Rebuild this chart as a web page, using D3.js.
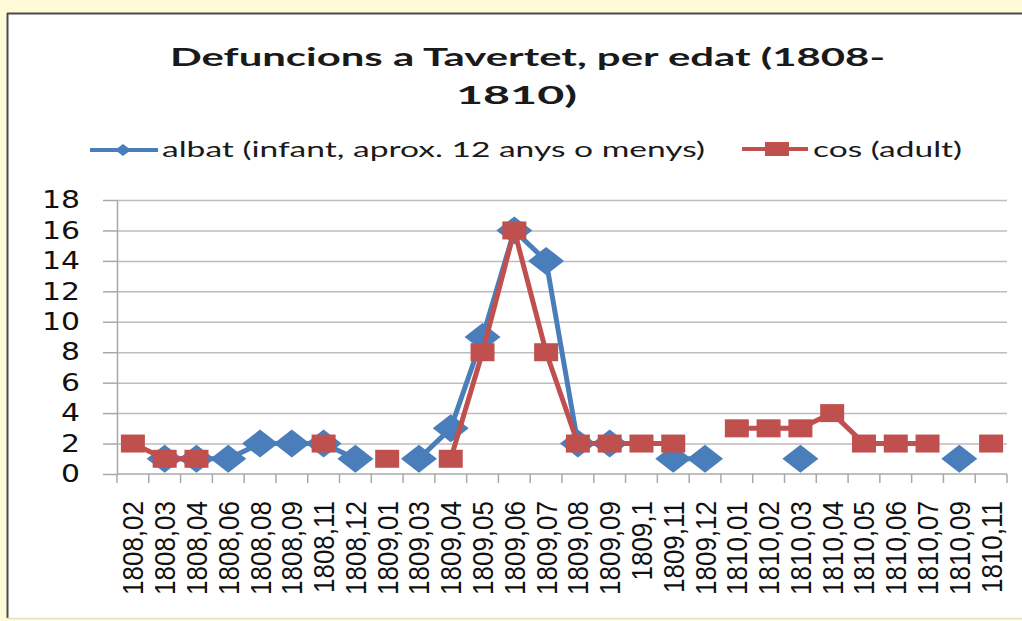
<!DOCTYPE html>
<meta charset="utf-8">
<style>
body{
  margin:0;
  background:#fffad8;
}
.grid line{
  stroke:#bdbdbd;
  stroke-width:1.5px;
}
.grid path{
  stroke:none;
}
.axis path, .axis line{
  stroke:#a8a8a8;
  stroke-width:1.5px;
}
</style>
<body>
<script src="https://d3js.org/d3.v7.min.js"></script>
<script>

var categories=['1808,02','1808,03','1808,04','1808,06','1808,08','1808,09','1808,11','1808,12',
  '1809,01','1809,03','1809,04','1809,05','1809,06','1809,07','1809,08','1809,09','1809,1',
  '1809,11','1809,12','1810,01','1810,02','1810,03','1810,04','1810,05','1810,06','1810,07',
  '1810,09','1810,11'];
// null = cap valor aquest mes
var albat=[null,1,1,1,2,2,2,1,null,1,3,9,16,14,2,2,null,1,1,null,null,1,null,null,null,null,1,null];
var cos=[2,1,1,null,null,null,2,null,1,null,1,8,16,8,2,2,2,2,null,3,3,3,4,2,2,2,null,2];
var yTicks=[0,2,4,6,8,10,12,14,16,18];

var blue="#4a7ebb", red="#c0504d";

var svg=d3.select("body").append("svg").attr("width",1022).attr("height",621)
  .style("display","block");

// panell blanc
svg.append("rect").attr("x",7).attr("y",13).attr("width",1030).attr("height",605).attr("fill","#fff");
svg.append("line").attr("x1",7.5).attr("x2",7.5).attr("y1",13).attr("y2",618).attr("stroke","#4a4a4a").attr("stroke-width",2);
svg.append("line").attr("x1",7).attr("x2",1022).attr("y1",13.5).attr("y2",13.5).attr("stroke","#4a4a4a").attr("stroke-width",2);
svg.append("line").attr("x1",7).attr("x2",1022).attr("y1",618.5).attr("y2",618.5).attr("stroke","#e4e0c4").attr("stroke-width",1.5);

// títol
svg.append("text").attr("x",170).attr("y",66)
  .attr("textLength",715).attr("lengthAdjust","spacingAndGlyphs")
  .style("font-family","Lato, 'Open Sans', sans-serif").style("font-weight","bold").style("font-size","25px")
  .style("fill","#1a1a1a")
  .text("Defuncions a Tavertet, per edat (1808-");
svg.append("text").attr("x",456).attr("y",104)
  .attr("textLength",121).attr("lengthAdjust","spacingAndGlyphs")
  .style("font-family","Lato, 'Open Sans', sans-serif").style("font-weight","bold").style("font-size","25px")
  .style("fill","#1a1a1a")
  .text("1810)");

var x=d3.scaleBand().domain(categories).range([117,1007]);
var y=d3.scaleLinear().domain([0,18]).range([474,200]);
var cx=function(i){ return x(categories[i])+x.bandwidth()/2; };

// graella
svg.append("g").attr("class","grid").attr("transform","translate(117,0)")
  .call(d3.axisLeft(y).tickValues(yTicks.slice(1)).tickSize(-890).tickFormat(""));

// eix Y
var ya=svg.append("g").attr("class","axis").attr("transform","translate(117,0)")
  .call(d3.axisLeft(y).tickValues(yTicks).tickSize(14).tickSizeOuter(0).tickPadding(23));
ya.selectAll("text")
  .style("font-family","'DejaVu Sans', Verdana, sans-serif").style("font-size","24px").style("fill","#111")
  .attr("textLength",function(d){ return String(d).length*19; })
  .attr("lengthAdjust","spacingAndGlyphs");

// eix X
var xa=svg.append("g").attr("class","axis");
xa.append("line").attr("x1",117).attr("x2",1007).attr("y1",y(0)).attr("y2",y(0));
xa.selectAll(".tk").data(categories.concat([null])).enter().append("line").attr("class","tk")
  .attr("x1",function(d){ return d==null? x.range()[1] : x(d); })
  .attr("x2",function(d){ return d==null? x.range()[1] : x(d); })
  .attr("y1",y(0)).attr("y2",y(0)+9);
svg.append("g").selectAll("text").data(categories).enter().append("text")
  .attr("transform",function(d,i){ return "translate("+cx(i)+",501) rotate(-90) scale(1,1.12)"; })
  .attr("dy","0.36em")
  .attr("text-anchor","end")
  .style("font-family","'Liberation Sans', Arial, sans-serif").style("font-size","26px").style("fill","#111")
  .text(function(d){ return d; });

var line=d3.line().defined(function(d){ return d!=null; })
  .x(function(d,i){ return cx(i); }).y(function(d){ return y(d); });

function diamond(sel,w,h){
  sel.attr("d","M0,"+(-h/2)+"L"+(w/2)+",0L0,"+(h/2)+"L"+(-w/2)+",0Z");
}

// albat
svg.append("path").datum(albat).attr("d",line)
  .attr("fill","none").attr("stroke",blue).attr("stroke-width",5).attr("stroke-linejoin","round");
svg.append("g").selectAll("path").data(albat.map(function(v,i){ return {v:v,i:i}; }).filter(function(d){ return d.v!=null; }))
  .enter().append("path")
  .attr("transform",function(d){ return "translate("+cx(d.i)+","+y(d.v)+")"; })
  .call(diamond,36,28).attr("fill",blue);

// cos
svg.append("path").datum(cos).attr("d",line)
  .attr("fill","none").attr("stroke",red).attr("stroke-width",5).attr("stroke-linejoin","round");
svg.append("g").selectAll("rect").data(cos.map(function(v,i){ return {v:v,i:i}; }).filter(function(d){ return d.v!=null; }))
  .enter().append("rect")
  .attr("x",function(d){ return cx(d.i)-12; }).attr("y",function(d){ return y(d.v)-9; })
  .attr("width",24).attr("height",18).attr("fill",red);

// llegenda
var lg=svg.append("g");
lg.append("line").attr("x1",90).attr("x2",158).attr("y1",150).attr("y2",150).attr("stroke",blue).attr("stroke-width",4);
lg.append("path").attr("transform","translate(123,150)").call(diamond,16,12).attr("fill",blue);
lg.append("text").attr("x",162).attr("y",157)
  .attr("textLength",543).attr("lengthAdjust","spacingAndGlyphs")
  .style("font-family","Lato, 'Open Sans', sans-serif").style("font-size","22px").style("fill","#1a1a1a")
  .text("albat (infant, aprox. 12 anys o menys)");
lg.append("line").attr("x1",742).attr("x2",808).attr("y1",149).attr("y2",149).attr("stroke",red).attr("stroke-width",4);
lg.append("rect").attr("x",765).attr("y",142).attr("width",24).attr("height",14).attr("fill",red);
lg.append("text").attr("x",813).attr("y",157)
  .attr("textLength",149).attr("lengthAdjust","spacingAndGlyphs")
  .style("font-family","Lato, 'Open Sans', sans-serif").style("font-size","22px").style("fill","#1a1a1a")
  .text("cos (adult)");

</script>
</body>
